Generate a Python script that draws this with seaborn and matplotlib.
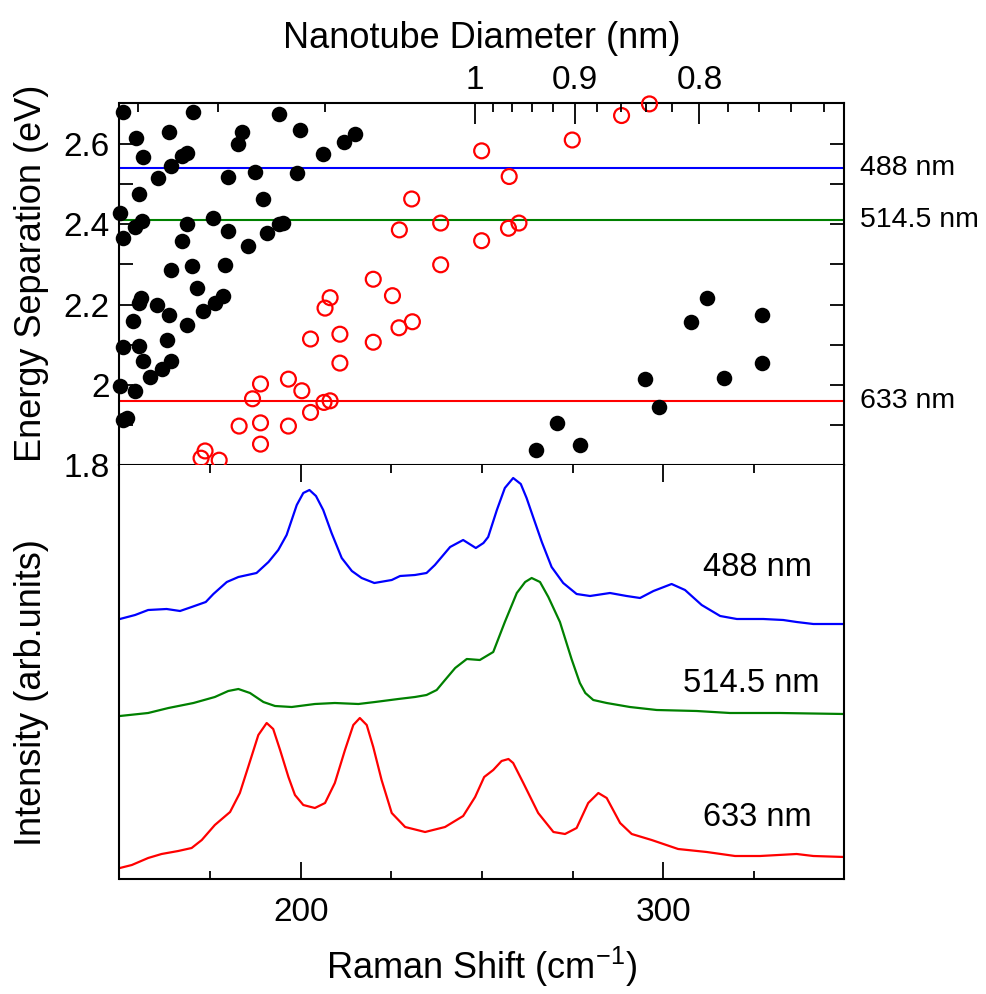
import numpy as np
import matplotlib
matplotlib.use("Agg")
import matplotlib.pyplot as plt
import seaborn as sns

# ---------------- data ----------------
# Kataura-type plot: black = semiconducting, red open = metallic
semi_w = [151.0, 170.2, 194.0, 154.6, 163.7, 183.7, 182.6, 199.8, 215.0, 212.0, 156.6, 206.2,
          168.7, 167.2, 164.2, 160.5, 180.0, 187.4, 198.9, 155.5, 189.7, 150.1, 156.1, 154.3,
          151.0, 168.5, 175.7, 180.0, 167.2, 185.5, 190.6, 194.0, 195.2,
          164.2, 170.1, 179.1, 171.3, 155.9, 155.5, 160.4, 163.7, 153.6, 168.5, 173.1, 176.3,
          178.5, 163.0, 150.9, 155.5, 156.6, 161.6, 164.1, 158.4, 150.1, 154.3, 151.0, 152.0,
          264.8, 270.6, 277.0, 295.0, 298.9, 307.6, 312.2, 316.8, 327.2, 327.2]
semi_E = [2.681, 2.681, 2.675, 2.616, 2.629, 2.630, 2.600, 2.635, 2.625, 2.606, 2.567, 2.575,
          2.577, 2.569, 2.546, 2.515, 2.519, 2.531, 2.527, 2.475, 2.463, 2.428, 2.407, 2.394,
          2.365, 2.400, 2.415, 2.382, 2.359, 2.347, 2.379, 2.400, 2.404,
          2.285, 2.295, 2.299, 2.242, 2.216, 2.203, 2.199, 2.174, 2.159, 2.149, 2.184, 2.205,
          2.220, 2.112, 2.094, 2.097, 2.058, 2.039, 2.058, 2.019, 1.997, 1.985, 1.912, 1.917,
          1.837, 1.905, 1.849, 2.014, 1.945, 2.157, 2.217, 2.018, 2.174, 2.054]

metal_w = [230.6, 227.2, 238.6, 249.9, 257.5, 249.9, 257.3, 260.2, 274.9, 288.5, 296.2,
           238.6, 220.0, 225.3, 208.1, 206.7, 230.8, 227.1, 202.7, 210.8, 220.0, 210.8,
           188.9, 196.6, 200.3, 186.7, 206.4, 208.1, 202.7, 183.0, 188.9, 196.6, 188.9,
           173.6, 172.5, 177.5]
metal_E = [2.463, 2.386, 2.403, 2.583, 2.519, 2.359, 2.390, 2.403, 2.610, 2.671, 2.700,
           2.299, 2.263, 2.222, 2.217, 2.191, 2.157, 2.142, 2.114, 2.126, 2.106, 2.054,
           2.002, 2.014, 1.985, 1.965, 1.956, 1.960, 1.931, 1.897, 1.905, 1.897, 1.852,
           1.835, 1.817, 1.812]

laser_nm = [488, 514.5, 633]
laser_labels = ["488 nm", "514.5 nm", "633 nm"]
laser_colors = ["#0000ff", "#008000", "#ff0000"]

diam_major = [1.0, 0.9, 0.8]
diam_major_labels = ["1", "0.9", "0.8"]
diam_minor = [1.6, 1.4, 1.2, 0.98, 0.96, 0.94, 0.92, 0.88, 0.86, 0.84, 0.82,
              0.78, 0.76, 0.74, 0.72]

# Raman spectra (arb. units, offset)
w488 = [150.1, 154.3, 157.9, 163.0, 166.7, 169.9, 173.8, 175.9, 179.6, 182.8, 187.8, 191.1,
        193.8, 196.1, 198.9, 200.7, 202.4, 204.2, 206.2, 208.5, 211.3, 214.1, 216.8, 220.3,
        225.1, 227.4, 231.5, 234.7, 237.0, 241.2, 244.8, 248.3, 250.4, 251.7, 254.1, 256.3,
        258.6, 260.7, 262.3, 264.2, 266.5, 269.2, 272.4, 276.1, 279.8, 285.3, 289.9, 293.6,
        297.3, 302.3, 306.0, 310.6, 315.7, 320.3, 327.6, 333.1, 336.8, 341.4, 350.0]
i488 = [2.60, 2.64, 2.69, 2.70, 2.68, 2.72, 2.77, 2.85, 2.97, 3.02, 3.06, 3.17,
        3.29, 3.44, 3.74, 3.86, 3.89, 3.83, 3.69, 3.46, 3.21, 3.08, 3.01, 2.96,
        2.99, 3.03, 3.04, 3.06, 3.14, 3.32, 3.39, 3.31, 3.36, 3.42, 3.69, 3.91,
        4.01, 3.95, 3.81, 3.61, 3.37, 3.12, 2.96, 2.85, 2.83, 2.86, 2.83, 2.81,
        2.88, 2.95, 2.89, 2.74, 2.63, 2.60, 2.60, 2.59, 2.57, 2.55, 2.55]

w514 = [150.1, 157.9, 163.5, 170.4, 176.3, 180.0, 182.8, 186.0, 189.7, 192.9, 197.5, 203.9,
        209.4, 215.9, 220.5, 226.9, 231.5, 234.7, 237.5, 239.8, 242.6, 245.8, 249.4, 253.1,
        256.3, 259.6, 261.9, 263.7, 266.0, 268.3, 271.5, 274.7, 277.0, 278.5, 280.7, 284.4,
        290.8, 298.2, 309.2, 318.4, 332.2, 350.0]
i514 = [1.63, 1.66, 1.71, 1.76, 1.82, 1.88, 1.90, 1.86, 1.77, 1.73, 1.72, 1.75,
        1.76, 1.75, 1.77, 1.80, 1.82, 1.84, 1.89, 1.99, 2.11, 2.20, 2.19, 2.27,
        2.57, 2.86, 2.97, 3.01, 2.97, 2.82, 2.57, 2.20, 1.96, 1.86, 1.79, 1.76,
        1.72, 1.69, 1.68, 1.66, 1.66, 1.65]

w633 = [150.1, 153.4, 157.9, 161.6, 166.2, 169.9, 172.7, 176.3, 180.5, 183.2, 185.5, 188.3,
        190.6, 192.4, 194.3, 196.6, 198.4, 200.7, 203.9, 206.7, 209.4, 212.2, 214.5, 216.3,
        218.2, 220.0, 222.3, 225.1, 228.8, 234.3, 239.8, 244.8, 248.1, 250.6, 253.1, 255.4,
        257.3, 258.6, 261.4, 265.5, 269.7, 272.9, 276.1, 279.3, 282.1, 284.4, 288.1, 291.3,
        296.8, 304.1, 312.0, 319.8, 326.7, 336.8, 341.4, 350.0]
i633 = [0.11, 0.14, 0.21, 0.25, 0.28, 0.31, 0.39, 0.54, 0.67, 0.86, 1.12, 1.44,
        1.56, 1.50, 1.29, 1.02, 0.84, 0.74, 0.71, 0.76, 0.96, 1.29, 1.54, 1.61,
        1.54, 1.32, 0.99, 0.66, 0.52, 0.47, 0.52, 0.63, 0.82, 1.02, 1.09, 1.18,
        1.20, 1.16, 0.96, 0.66, 0.47, 0.45, 0.51, 0.76, 0.86, 0.81, 0.56, 0.45,
        0.39, 0.30, 0.27, 0.23, 0.23, 0.25, 0.23, 0.22]

spec_label_pos = [(311.0, 3.11), (305.4, 1.96), (311.0, 0.62)]

x_major = [200, 300]
x_minor = [175, 225, 250, 275, 325]
y_major = [1.8, 2.0, 2.2, 2.4, 2.6]
y_major_labels = ["1.8", "2", "2.2", "2.4", "2.6"]
y_minor = [1.9, 2.1, 2.3, 2.5]

# ---------------- style ----------------
sns.set_style("ticks")
plt.rcParams["font.family"] = ["Liberation Sans", "DejaVu Sans"]
plt.rcParams["mathtext.fontset"] = "custom"
plt.rcParams["mathtext.rm"] = "Liberation Sans"
plt.rcParams["mathtext.it"] = "Liberation Sans:italic"
plt.rcParams["axes.linewidth"] = 1.5
for k in ["text.color", "axes.labelcolor", "xtick.color", "ytick.color", "axes.edgecolor"]:
    plt.rcParams[k] = "black"

TICK_FS = 24
LAB_FS = 26

fig = plt.figure(figsize=(9.87, 9.94), dpi=100)
L, W = 119.5 / 987, 725 / 987
ax1 = fig.add_axes([L, 1 - 465 / 994, W, (465 - 102.7) / 994])
ax2 = fig.add_axes([L, 1 - 879 / 994, W, (879 - 465) / 994])

# ---------------- top panel ----------------
for lam, col in zip(laser_nm, laser_colors):
    ax1.axhline(1239.84 / lam, color=col, lw=1.5, zorder=1)

sns.scatterplot(x=semi_w, y=semi_E, ax=ax1, color="black", s=125, edgecolor="black",
                linewidth=0, clip_on=False, zorder=3)
sns.scatterplot(x=metal_w, y=metal_E, ax=ax1, color="red", facecolor="none", edgecolor="red",
                s=115, linewidth=1.6, clip_on=False, zorder=3)

ax1.set_xlim(150, 350)
ax1.set_ylim(1.8, 2.703)
ax1.set_xticks([])
ax1.set_yticks(y_major)
ax1.set_yticklabels(y_major_labels)
ax1.set_yticks(y_minor, minor=True)
ax1.tick_params(axis="y", which="both", direction="in", left=True, right=True,
                length=10, width=1.3, labelsize=TICK_FS, pad=7)
ax1.set_ylabel("Energy Separation (eV)", fontsize=LAB_FS)
ax1.yaxis.set_label_coords(-0.097, 0.53)

for lam, lab in zip(laser_nm, laser_labels):
    ax1.text(1.0214, 1239.84 / lam, lab, transform=ax1.get_yaxis_transform(),
             ha="left", va="center", fontsize=20.5, clip_on=False)

# top diameter axis
ax1t = ax1.twiny()
ax1t.set_xlim(150, 350)
ax1t.set_xticks([248.0 / d for d in diam_major])
ax1t.set_xticklabels(diam_major_labels)
ax1t.set_xticks([248.0 / d for d in diam_minor], minor=True)
ax1t.tick_params(axis="x", which="both", direction="in", top=True, bottom=False,
                 labelsize=TICK_FS, width=1.3, pad=5)
ax1t.tick_params(axis="x", which="major", length=15)
ax1t.tick_params(axis="x", which="minor", length=6.5)
ax1t.set_xlabel("Nanotube Diameter (nm)", fontsize=LAB_FS, labelpad=12)
for sp in ax1t.spines.values():
    sp.set_visible(False)

# ---------------- bottom panel ----------------
for w, i, col in zip([w488, w514, w633], [i488, i514, i633], laser_colors):
    sns.lineplot(x=w, y=i, ax=ax2, color=col, lw=1.6, sort=False, estimator=None)
for (px, py), lab in zip(spec_label_pos, laser_labels):
    ax2.text(px, py, lab, ha="left", va="center", fontsize=23.5)

ax2.set_xlim(150, 350)
ax2.set_ylim(0, 4.14)
ax2.set_yticks([])
ax2.set_xticks(x_major)
ax2.set_xticklabels([str(v) for v in x_major])
ax2.set_xticks(x_minor, minor=True)
ax2.tick_params(axis="x", which="both", direction="in", top=True, bottom=True,
                width=1.3, labelsize=TICK_FS, pad=13)
ax2.tick_params(axis="x", which="major", length=12)
ax2.tick_params(axis="x", which="minor", length=6)
ax2.spines["top"].set_visible(False)
ax2.set_xlabel(r"Raman Shift (cm$^{\mathregular{-1}}$)", fontsize=LAB_FS, labelpad=12)
ax2.set_ylabel("Intensity (arb.units)", fontsize=LAB_FS)
ax2.yaxis.set_label_coords(-0.097, 0.45)

fig.savefig("out.png", dpi=100)
